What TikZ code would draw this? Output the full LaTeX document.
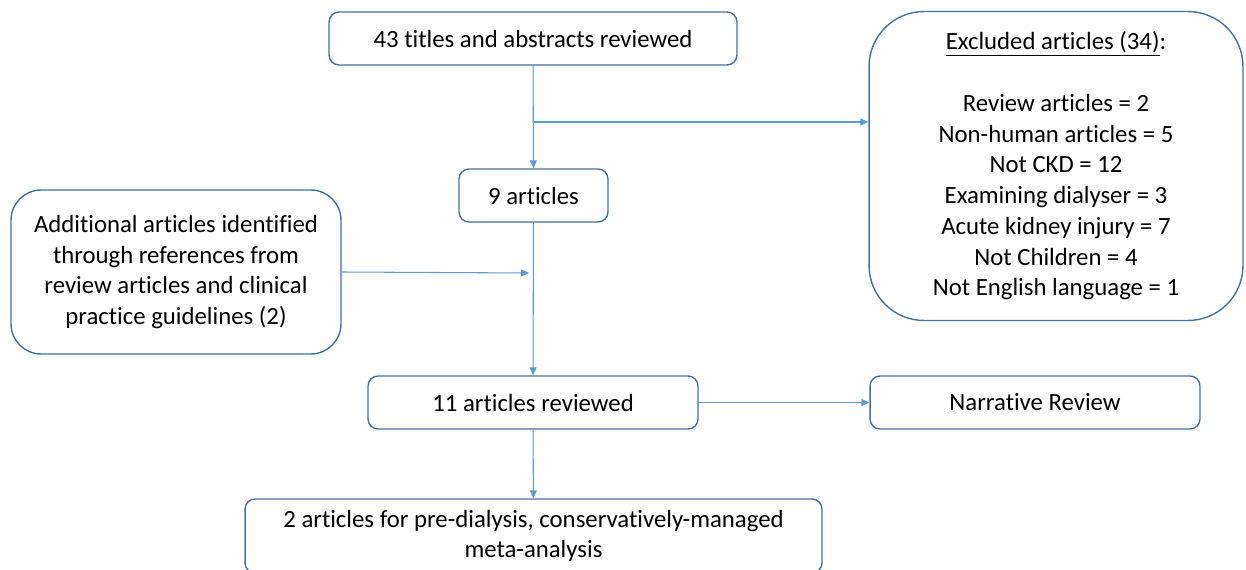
\documentclass[tikz,border=0pt]{standalone}
\usepackage{fontspec}
\setmainfont{Carlito}[Ligatures=NoCommon]
\definecolor{boxline}{HTML}{41719C}
\definecolor{arrline}{HTML}{5B9BD5}
\usetikzlibrary{arrows.meta}

\begin{document}
\begin{tikzpicture}[x=0.02cm,y=-0.02cm,
  box/.style={draw=boxline,line width=0.8pt,rounded corners=0.2cm,align=center,inner sep=0pt,
    font=\fontsize{14.1}{17.5}\selectfont},
  arr/.style={draw=arrline,line width=0.6pt,-{Triangle[length=1.6mm,width=1.4mm]}}]
  \useasboundingbox (0,0) rectangle (1246,570);
  \node[box,minimum width=8.16cm,minimum height=1.06cm] (titles) at (533,38.5) {43 titles and abstracts reviewed};
  \node[box,rounded corners=1.1cm,minimum width=7.48cm,minimum height=6.18cm] (excl) at (1056,166)
    {\underline{Excluded articles (34)}:\\[17.5pt]Review articles = 2\\Non-human articles = 5\\Not CKD = 12\\Examining dialyser = 3\\Acute kidney injury = 7\\Not Children = 4\\Not English language = 1};
  \node[box,minimum width=2.98cm,minimum height=1.06cm] (nine) at (533.5,195.5) {9 articles};
  \node[box,rounded corners=0.6cm,minimum width=6.6cm,minimum height=3.28cm] (addl) at (176,272)
    {Additional articles identified\\through references from\\review articles and clinical\\practice guidelines (2)};
  \node[box,minimum width=6.6cm,minimum height=1.06cm] (eleven) at (533,402.5) {11 articles reviewed};
  \node[box,minimum width=6.6cm,minimum height=1.06cm] (narr) at (1035,402.5) {Narrative Review};
  \node[box,minimum width=11.54cm,minimum height=1.48cm] (meta) at (533.5,536)
    {2 articles for pre-dialysis, conservatively-managed\\meta-analysis};
  \coordinate (split) at (533,122);
  \coordinate (join) at (529,273);
  \draw[arr] (titles) -- (nine);
  \draw[arr] (split) -- (split -| excl.west);
  \draw[arr] (nine) -- (eleven);
  \draw[arr] (addl.east) -- (join);
  \draw[arr] (eleven) -- (narr);
  \draw[arr] (eleven) -- (meta);
\end{tikzpicture}
\end{document}
